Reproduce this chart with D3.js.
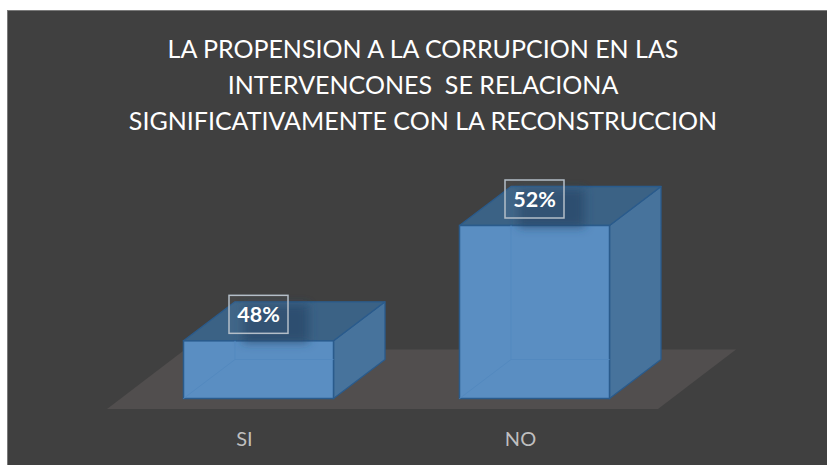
<!DOCTYPE html>
<html><head><meta charset="utf-8">
<script src="https://cdn.jsdelivr.net/npm/d3@7"></script>
<style>html,body{margin:0;padding:0;background:#fff;overflow:hidden}svg{display:block}</style>
</head><body><svg id="c" width="827" height="465"></svg>
<script>
const categories = ["SI", "NO"];
const percentValues = [48, 52];
const titleLines = ["LA PROPENSION A LA CORRUPCION EN LAS", "INTERVENCONES  SE RELACIONA", "SIGNIFICATIVAMENTE CON LA RECONSTRUCCION"];
const axisDomain = [46, 52];

const svg = d3.select("#c");
const font = "Lato, Carlito, sans-serif";
const depth = {dx: 51.5, dy: -39};
const x = d3.scaleBand().domain(categories).range([120.5, 672.5]).paddingInner(126/276).paddingOuter(63/276);
const y = d3.scaleLinear().domain(axisDomain).range([398.5, 225.5]);

const defs = svg.append("defs");
defs.append("filter").attr("id","blur").attr("x","-50%").attr("y","-50%").attr("width","200%").attr("height","200%")
  .append("feGaussianBlur").attr("stdDeviation", 5);

svg.append("rect").attr("x",7.5).attr("y",10.5).attr("width",830).attr("height",470)
  .attr("fill","#404040").attr("stroke","#7a7a7a").attr("stroke-width",1);

// floor
svg.append("polygon").attr("points","107,409 658,409 736,349.5 185,349.5").attr("fill","#514e4e");

const poly = a => a.map(p => p.join(",")).join(" ");
const edge = "#2a5b8c";
const bars = svg.selectAll("g.bar").data(categories.map((c,i)=>({c, v:percentValues[i]}))).join("g").attr("class","bar");
bars.each(function(d){
  const g = d3.select(this);
  const x0 = x(d.c), x1 = x0 + x.bandwidth(), yb = y(axisDomain[0]), yt = y(d.v);
  const {dx, dy} = depth;
  // right side
  g.append("polygon").attr("points",poly([[x1,yt],[x1+dx,yt+dy],[x1+dx,yb+dy],[x1,yb]]))
    .attr("fill","#47739c").attr("stroke",edge).attr("stroke-width",1.3).attr("stroke-linejoin","round");
  // top
  g.append("polygon").attr("points",poly([[x0,yt],[x0+dx,yt+dy],[x1+dx,yt+dy],[x1,yt]]))
    .attr("fill","#3b6285").attr("stroke",edge).attr("stroke-width",1.3).attr("stroke-linejoin","round");
  // front
  g.append("rect").attr("x",x0).attr("y",yt).attr("width",x1-x0).attr("height",yb-yt)
    .attr("fill","#5a8ec2").attr("stroke",edge).attr("stroke-width",1.5);
  // faint inner edges seen through the front
  g.append("path").attr("d",`M${x0},${yb}L${x0+dx},${yb+dy}L${x1},${yb+dy}M${x0+dx},${yb+dy}L${x0+dx},${yt}`)
    .attr("fill","none").attr("stroke","#5389bf").attr("stroke-width",1);
  // label shadow
  const cx = (x0+x1)/2, cy = yt-26.5;
  const clip = `clip-${d.c}`;
  defs.append("clipPath").attr("id",clip).append("rect").attr("x",x0-20).attr("y",yt-60).attr("width",x1-x0+80).attr("height",60+16);
  g.append("g").attr("clip-path",`url(#${clip})`)
    .append("rect").attr("x",cx-16).attr("y",cy-10).attr("width",66).attr("height",38)
    .attr("fill","#27486a").attr("fill-opacity",0.75).attr("filter","url(#blur)");
  // label box
  g.append("rect").attr("x",cx-29.5).attr("y",cy-19).attr("width",59).attr("height",38)
    .attr("fill","#ffffff").attr("fill-opacity",0.03).attr("stroke","#b4bec8").attr("stroke-width",1.5);
  g.append("text").attr("x",cx).attr("y",cy+7.5).attr("text-anchor","middle")
    .attr("font-family",font).attr("font-weight",700).attr("font-size",21.5).attr("fill","#ffffff").text(d.v+"%");
});

// title
svg.append("g").selectAll("text").data(titleLines).join("text")
  .attr("x",423).attr("y",(d,i)=>57.5+i*36.2).attr("text-anchor","middle")
  .style("white-space","pre")
  .attr("font-family",font).attr("font-size",25).attr("fill","#ffffff").text(d=>d);

// category axis labels (sit left of the bar centres, as in the source)
svg.append("g").selectAll("text").data(categories).join("text")
  .attr("x",d=>x(d)+x.bandwidth()/2-14).attr("y",446).attr("text-anchor","middle")
  .attr("font-family",font).attr("font-size",20).attr("fill","#bfbfbf").text(d=>d);
</script></body></html>
